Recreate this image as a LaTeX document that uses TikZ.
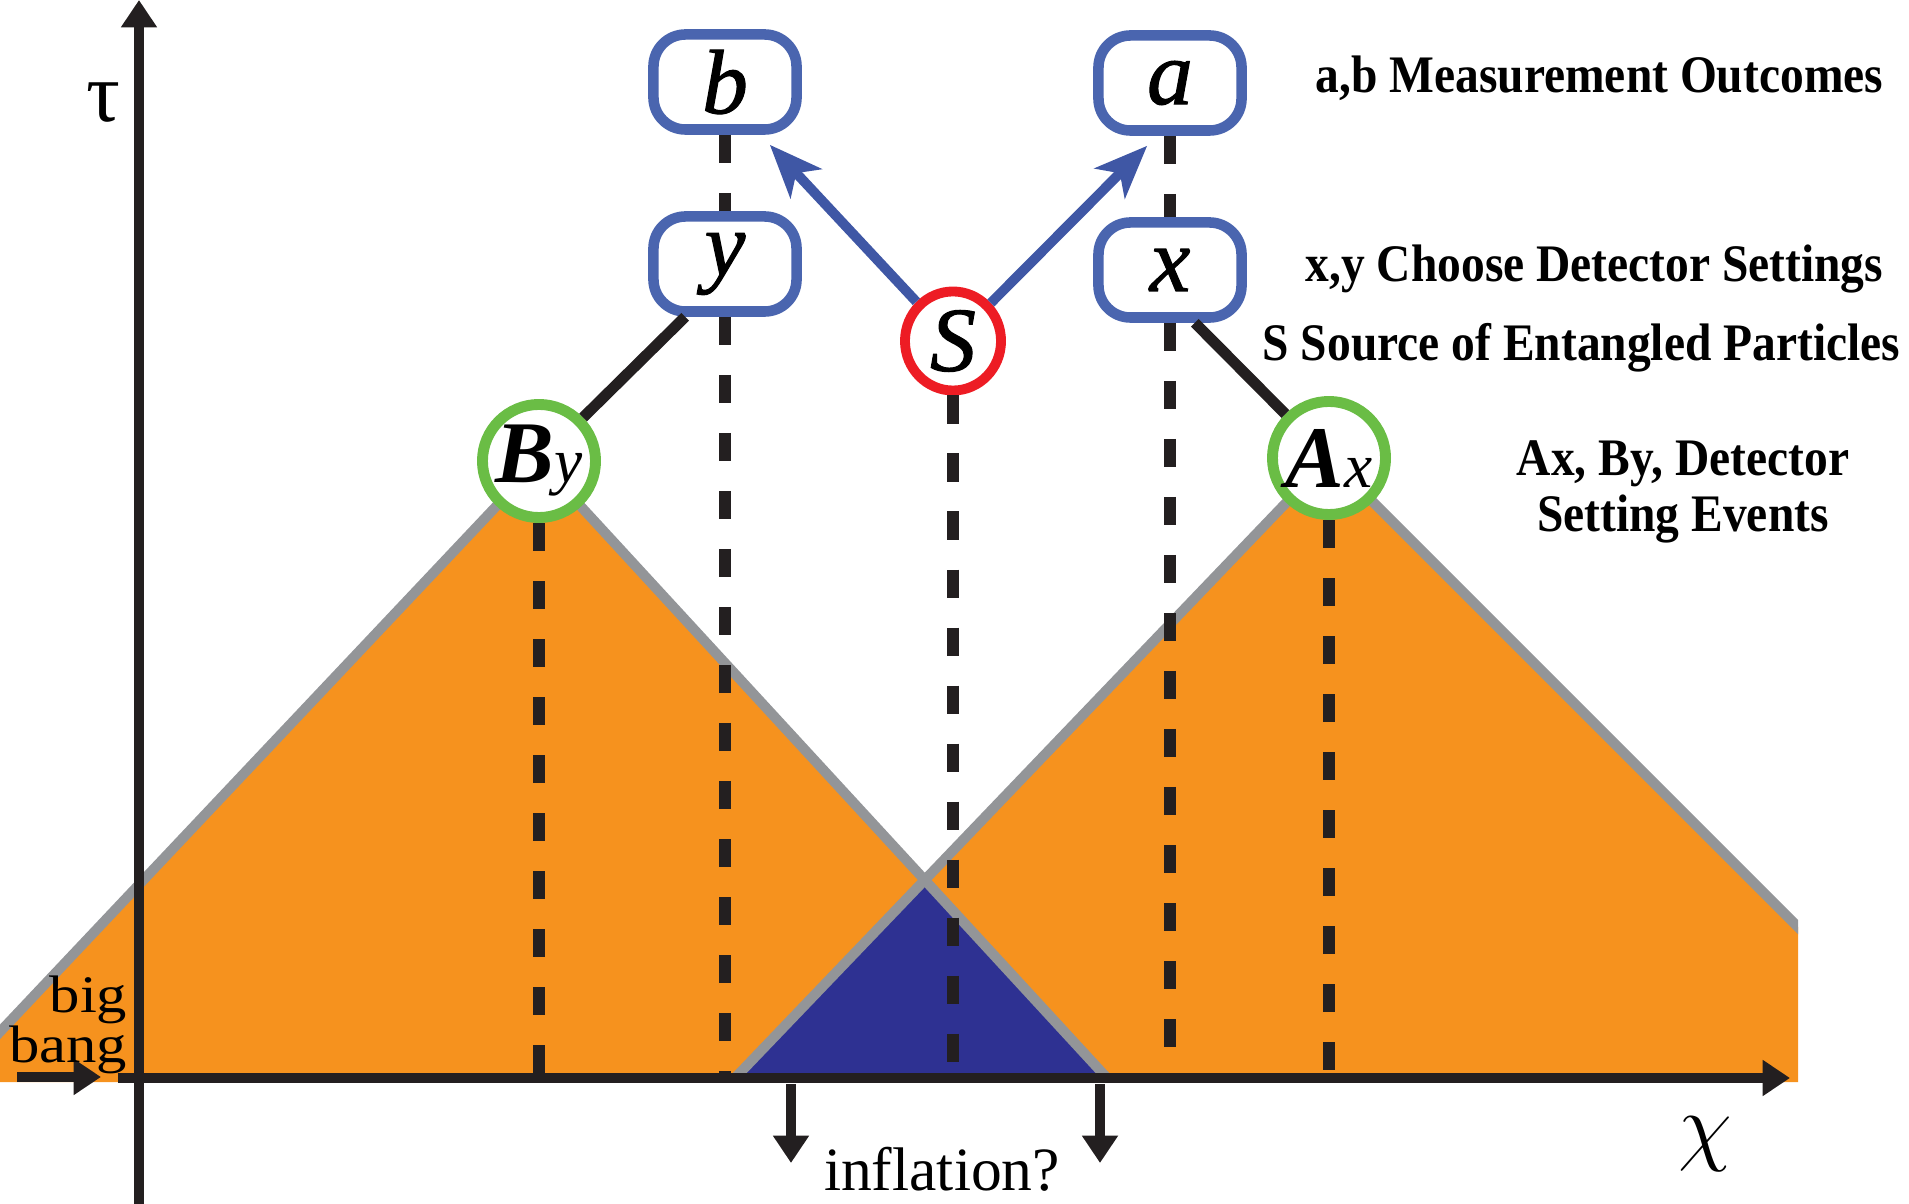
\documentclass[tikz,border=0pt]{standalone}
\usepackage{fontspec}
\setmainfont{Liberation Serif}
\newfontfamily\keyfont[FakeStretch=0.9]{Liberation Serif}
\newfontfamily\widefont[FakeStretch=1.15]{Liberation Serif}
\newfontfamily\letterfont[FakeBold=1.2]{Liberation Serif}
\usetikzlibrary{arrows.meta,calc,shapes.geometric}
\definecolor{lightcone}{RGB}{246,146,30}
\definecolor{overlap}{RGB}{46,49,146}
\definecolor{coneedge}{RGB}{147,149,152}
\definecolor{boxblue}{RGB}{74,101,175}
\definecolor{rayblue}{RGB}{63,87,165}
\definecolor{srcred}{RGB}{237,28,36}
\definecolor{eventgreen}{RGB}{106,189,69}
\definecolor{ink}{RGB}{35,31,32}

\begin{document}
\begin{tikzpicture}[x=0.01cm, y=-0.01cm,
	axisline/.style={ink, line width=3.1pt, -{Triangle[length=7.8pt, width=9.8pt]}},
	coneline/.style={coneedge, line width=2.85pt},
	outcome/.style={draw=boxblue, line width=3pt, fill=white, rounded corners=0.32cm, minimum width=1.43cm, minimum height=0.95cm, inner sep=0pt, font=\letterfont\fontsize{26}{26}\selectfont\itshape},
	source/.style={ellipse, draw=srcred, line width=2.8pt, fill=white, minimum width=0.96cm, minimum height=0.99cm, inner sep=0pt, font=\letterfont\fontsize{26}{26}\selectfont\itshape},
	event/.style={circle, draw=eventgreen, line width=3.1pt, fill=white, minimum size=1.13cm, inner sep=0pt, font=\fontsize{25}{25}\selectfont\bfseries\itshape},
	worldline/.style={ink, line width=3.4pt, dash pattern=on 8pt off 8.5pt},
	settingline/.style={ink, line width=3.1pt},
	ray/.style={rayblue, line width=2.8pt, -{Stealth[length=15pt, width=12pt, inset=4pt]}},
	key/.style={font=\keyfont\fontsize{15}{16}\selectfont\bfseries, inner sep=0pt},
	note/.style={font=\fontsize{17.5}{18}\selectfont, inner sep=0pt}]
	\useasboundingbox (0,0) rectangle (1909,1204);
	\coordinate (O) at (139,1078);
	\coordinate (apexB) at (539,461);
	\coordinate (apexA) at (1329,458);
	\coordinate (cross) at (925,880);

	\fill [lightcone] (0,1032) -- (apexB) -- (cross) -- (apexA) -- (1798,927) -- (1798,1082) -- (0,1082) -- cycle;
	\fill [overlap] (735,1078) -- (cross) -- (1107,1078) -- cycle;
	\begin{scope}
		\clip (0,0) rectangle (1798,1204);
		\draw [coneline] (-20,1053) -- (apexB) -- (1107,1078);
		\draw [coneline] (735,1078) -- (apexA) -- (1830,959);
	\end{scope}

	\node [event] (By) at (apexB) {B{\mdseries\fontsize{18}{18}\selectfont y}};
	\node [event] (Ax) at (apexA) {A{\mdseries\fontsize{18}{18}\selectfont x}};
	\node [outcome] (b) at (725,82) {b};
	\node [outcome] (a) at (1170,83) {a};
	\node [outcome] (yb) at (725,264) {y};
	\node [outcome] (xb) at (1170,270) {x};
	\node [source] (S) at (953,341) {S};

	\draw [worldline] (b) -- (yb);
	\draw [worldline] (yb) -- (yb |- O);
	\draw [worldline] (a) -- (xb);
	\draw [worldline] (xb) -- (xb |- O);
	\draw [worldline] (S) -- (S |- O);
	\draw [worldline] (By) -- (By |- O);
	\draw [worldline] (Ax) -- (Ax |- O);
	\draw [settingline] (By) -- ($(yb.south west)+(37,0)$);
	\draw [settingline] (Ax) -- ($(xb.south east)+(-52,0)$);
	\draw [ray] (S) -- ($(b.south east)+(-32,10)$);
	\draw [ray] (S) -- ($(a.south west)+(54,10)$);

	\draw [axisline] (139,1204) -- (139,0);
	\draw [axisline] (118,1078) -- (1790,1078);
	\draw [axisline] (17,1077) -- (101,1077);
	\draw [axisline] (791,1084) -- (791,1163);
	\draw [axisline] (1100,1084) -- (1100,1163);

	\node [font=\fontsize{24}{24}\selectfont] (tau) at (103,103) {τ};
	\node [font=\fontsize{28}{28}\selectfont] (chi) at (1705,1144) {$\chi$};
	\node [note, font=\widefont\fontsize{15}{16}\selectfont, anchor=base east] (big) at (128,1012) {big};
	\node [note, font=\widefont\fontsize{15}{16}\selectfont, anchor=base east] (bang) at (128,1062) {bang};
	\node [note, anchor=base] (infl) at (942,1190) {inflation?};

	\node [key, anchor=base west] (outlbl) at (1315,93) {a,b Measurement Outcomes};
	\node [key, anchor=base west] (setlbl) at (1305,282) {x,y Choose Detector Settings};
	\node [key, anchor=base west] (srclbl) at (1262,361) {S Source of Entangled Particles};
	\node [key, anchor=base] (evlbl) at (1683,476) {Ax, By, Detector};
	\node [key, anchor=base] (evlbl2) at (1683,532) {Setting Events};
\end{tikzpicture}
\end{document}
